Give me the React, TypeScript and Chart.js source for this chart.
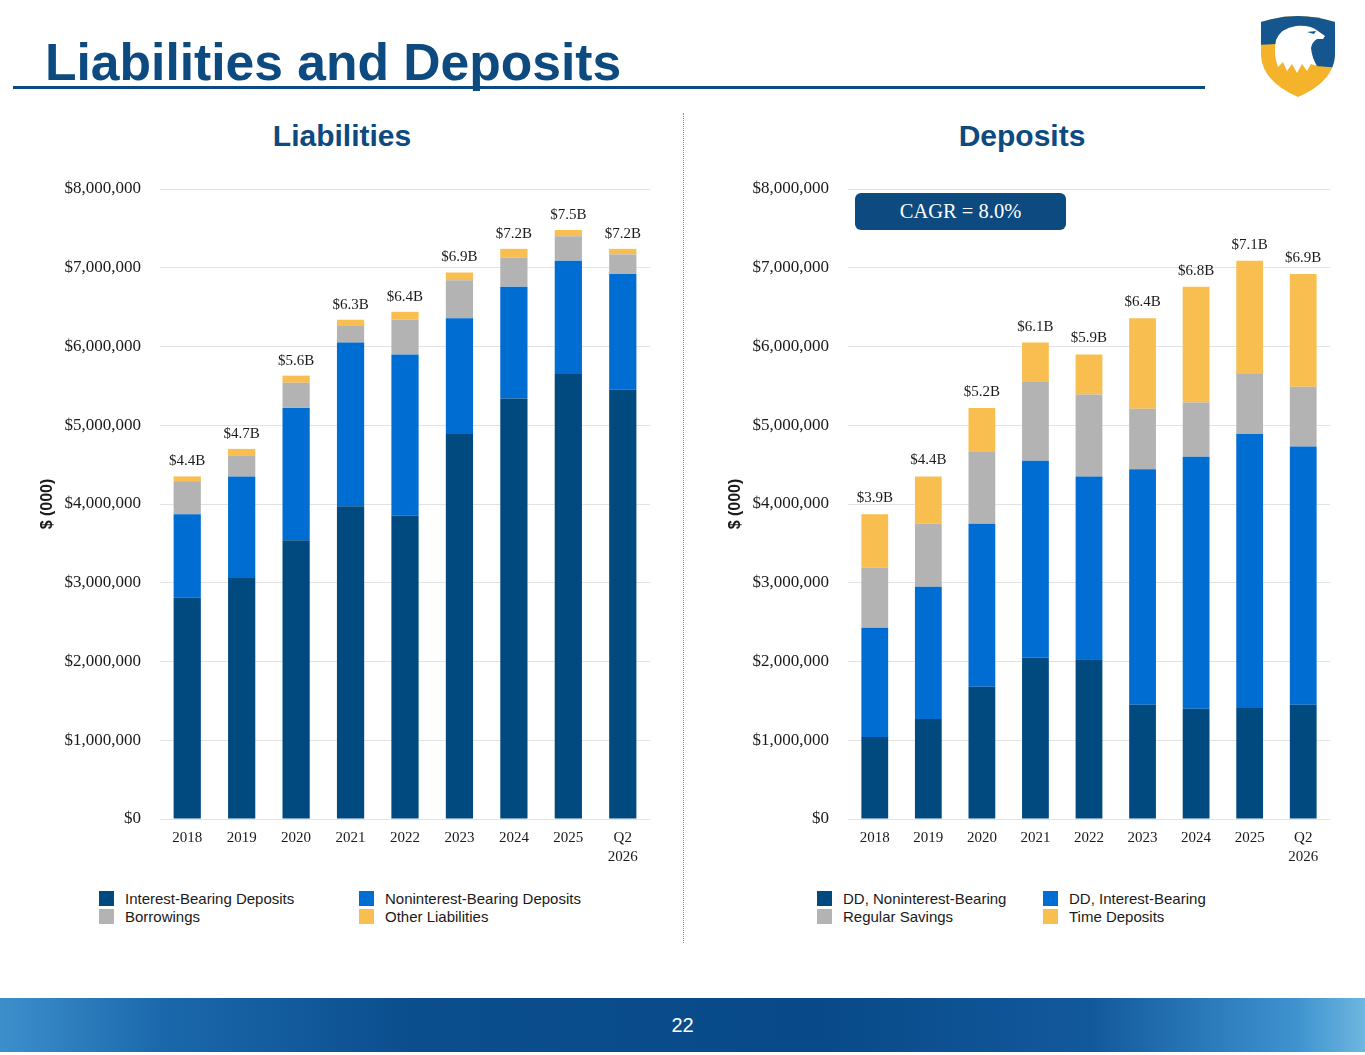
import React, { useEffect, useRef } from "react";
import { Chart, registerables } from "chart.js";

Chart.register(...registerables);

const years: (string | string[])[] = ["2018", "2019", "2020", "2021", "2022", "2023", "2024", "2025", ["Q2", "2026"]];

// Liabilities ($000)
const interestBearing = [2810000, 3060000, 3540000, 3970000, 3850000, 4890000, 5340000, 5650000, 5450000];
const nonInterestBearing = [1060000, 1290000, 1680000, 2080000, 2050000, 1470000, 1420000, 1440000, 1470000];
const borrowings = [420000, 260000, 320000, 210000, 440000, 480000, 370000, 310000, 250000];
const otherLiabilities = [60000, 90000, 90000, 80000, 100000, 100000, 110000, 80000, 70000];
const liabilityTotals = ["$4.4B", "$4.7B", "$5.6B", "$6.3B", "$6.4B", "$6.9B", "$7.2B", "$7.5B", "$7.2B"];

// Deposits ($000)
const ddNonInterest = [1040000, 1270000, 1680000, 2050000, 2030000, 1450000, 1400000, 1410000, 1450000];
const ddInterest = [1390000, 1680000, 2070000, 2500000, 2320000, 2990000, 3200000, 3480000, 3280000];
const regularSavings = [760000, 800000, 910000, 1000000, 1040000, 770000, 690000, 770000, 760000];
const timeDeposits = [680000, 600000, 560000, 500000, 510000, 1150000, 1470000, 1430000, 1430000];
const depositTotals = ["$3.9B", "$4.4B", "$5.2B", "$6.1B", "$5.9B", "$6.4B", "$6.8B", "$7.1B", "$6.9B"];

const NAVY = "#004A80";
const BLUE = "#006DD2";
const GRAY = "#B3B3B3";
const GOLD = "#F9BE50";
const TITLE = "#0C4A80";
const SERIF = "'Liberation Serif', 'Times New Roman', serif";
const SANS = "'Liberation Sans', Arial, sans-serif";

const liabilitySeries = [
  { label: "Interest-Bearing Deposits", data: interestBearing, color: NAVY },
  { label: "Noninterest-Bearing Deposits", data: nonInterestBearing, color: BLUE },
  { label: "Borrowings", data: borrowings, color: GRAY },
  { label: "Other Liabilities", data: otherLiabilities, color: GOLD },
];

const depositSeries = [
  { label: "DD, Noninterest-Bearing", data: ddNonInterest, color: NAVY },
  { label: "DD, Interest-Bearing", data: ddInterest, color: BLUE },
  { label: "Regular Savings", data: regularSavings, color: GRAY },
  { label: "Time Deposits", data: timeDeposits, color: GOLD },
];

type Series = { label: string; data: number[]; color: string };

// draws the "$x.xB" total above each stacked bar
const totalsPlugin = {
  id: "totals",
  afterDatasetsDraw(chart: any, _args: any, opts: any) {
    const { ctx } = chart;
    const meta = chart.getDatasetMeta(chart.data.datasets.length - 1);
    ctx.save();
    ctx.font = `15px ${SERIF}`;
    ctx.fillStyle = "#1a1a1a";
    ctx.textAlign = "center";
    ctx.textBaseline = "alphabetic";
    meta.data.forEach((bar: any, i: number) => {
      ctx.fillText(opts.labels[i], bar.x, bar.y - opts.gap);
    });
    ctx.restore();
  },
};

const StackedBars = ({ series, totals, gap, width }: { series: Series[]; totals: string[]; gap: number; width: number }) => {
  const canvasRef = useRef<HTMLCanvasElement>(null);

  useEffect(() => {
    const chart = new Chart(canvasRef.current as HTMLCanvasElement, {
      type: "bar",
      data: {
        labels: years,
        datasets: series.map((s) => ({
          label: s.label,
          data: s.data,
          backgroundColor: s.color,
          borderWidth: 0,
          categoryPercentage: 1,
          barPercentage: 0.5,
        })),
      },
      plugins: [totalsPlugin],
      options: {
        responsive: false,
        animation: false,
        layout: { padding: { top: 19, right: 10, left: 0, bottom: 0 } },
        plugins: {
          legend: { display: false },
          tooltip: { enabled: false },
          totals: { labels: totals, gap },
        } as any,
        scales: {
          x: {
            stacked: true,
            grid: { display: false, drawTicks: false },
            border: { display: false },
            ticks: {
              color: "#1a1a1a",
              font: { family: SERIF, size: 15, lineHeight: 1.25 },
              padding: 10,
              maxRotation: 0,
              autoSkip: false,
            },
            afterFit: (s: any) => {
              s.height = 61;
            },
          },
          y: {
            stacked: true,
            min: 0,
            max: 8000000,
            grid: { color: "#E2E2E2", drawTicks: false },
            border: { display: false },
            ticks: {
              stepSize: 1000000,
              color: "#1a1a1a",
              font: { family: SERIF, size: 17 },
              padding: 19,
              callback: (v: any) => "$" + Number(v).toLocaleString("en-US"),
            },
            title: {
              display: true,
              text: "$ (000)",
              color: "#1a1a1a",
              font: { family: SANS, size: 16, weight: "bold" },
              padding: { top: 8, bottom: 0 },
            },
            afterFit: (s: any) => {
              s.width = 130;
              s.paddingTop = 0;
              s.paddingBottom = 0;
            },
          },
        },
      },
    });
    return () => {
      chart.destroy();
    };
  }, [series, totals, gap]);

  return <canvas ref={canvasRef} width={width} height={710} />;
};

const Legend = ({ series, left, colGap }: { series: Series[]; left: number; colGap: number }) => (
  <div style={{ position: "absolute", left, top: 889, display: "grid", gridTemplateColumns: `${colGap}px auto`, rowGap: 0 }}>
    {series.map((s) => (
      <div key={s.label} style={{ display: "flex", alignItems: "center", height: 18, fontFamily: SANS, fontSize: 15, color: "#1a1a1a" }}>
        <span style={{ display: "inline-block", width: 15, height: 15, background: s.color, marginRight: 11 }} />
        {s.label}
      </div>
    ))}
  </div>
);

const Logo = () => (
  <svg style={{ position: "absolute", left: 1256, top: 10 }} width={84} height={90} viewBox="0 0 84 90">
    <defs>
      <clipPath id="shield">
        <path d="M5 12 Q42 0 79 12 L79 46 Q77 72 42 87 Q7 72 5 46 Z" />
      </clipPath>
    </defs>
    <g clipPath="url(#shield)">
      <rect x="0" y="0" width="84" height="90" fill="#F5B32C" />
      <path d="M0 0 H84 V58 L60 56 L52 36 L20 34 L0 35 Z" fill="#15568E" />
      <path d="M20 30 Q25 18 40 16 Q55 15 62 21 L69 26 L67 29 L61 29 Q56 32 55 38 Q56 48 61 56 L55 54 L51 61 L46 54 L41 63 L36 54 L31 61 L27 52 L22 57 Q17 44 20 30 Z" fill="#FFFFFF" />
      <path d="M51 22 L60 21 L58 24 Z" fill="#15568E" />
    </g>
  </svg>
);

export default function App() {
  return (
    <div style={{ position: "absolute", left: 0, top: 0, width: 1365, height: 1055, background: "#fff", overflow: "hidden" }}>
      <div style={{ position: "absolute", left: 45, top: 37, fontFamily: SANS, fontWeight: "bold", fontSize: 51.6, lineHeight: 1, color: TITLE, whiteSpace: "nowrap" }}>
        Liabilities and Deposits
      </div>
      <div style={{ position: "absolute", left: 13, top: 86, width: 1192, height: 3, background: TITLE }} />
      <Logo />

      <div style={{ position: "absolute", left: 192, top: 121, width: 300, textAlign: "center", fontFamily: SANS, fontWeight: "bold", fontSize: 30, lineHeight: 1, color: TITLE }}>
        Liabilities
      </div>
      <div style={{ position: "absolute", left: 872, top: 121, width: 300, textAlign: "center", fontFamily: SANS, fontWeight: "bold", fontSize: 30, lineHeight: 1, color: TITLE }}>
        Deposits
      </div>

      <div style={{ position: "absolute", left: 683, top: 113, height: 830, borderLeft: "1px dotted #8a8a8a" }} />

      <div style={{ position: "absolute", left: 30, top: 170 }}>
        <StackedBars series={liabilitySeries} totals={liabilityTotals} gap={11} width={630} />
      </div>
      <div style={{ position: "absolute", left: 718, top: 170 }}>
        <StackedBars series={depositSeries} totals={depositTotals} gap={12} width={622} />
      </div>

      <div style={{ position: "absolute", left: 855, top: 193, width: 211, height: 37, borderRadius: 6, background: TITLE, color: "#fff", fontFamily: SERIF, fontSize: 20.5, display: "flex", alignItems: "center", justifyContent: "center" }}>
        CAGR = 8.0%
      </div>

      <Legend series={liabilitySeries} left={99} colGap={260} />
      <Legend series={depositSeries} left={817} colGap={226} />

      <div style={{ position: "absolute", left: 0, top: 998, width: 1365, height: 54, background: "linear-gradient(90deg, #3D8FCC 0%, #1A68AB 12%, #0B4E8E 30%, #084A89 60%, #12599C 80%, #3E93CF 95%, #6DB6E0 100%)" }}>
        <div style={{ position: "absolute", left: 0, top: 0, width: "100%", height: 54, lineHeight: "54px", textAlign: "center", fontFamily: SANS, fontSize: 20, color: "#fff" }}>22</div>
      </div>
    </div>
  );
}
